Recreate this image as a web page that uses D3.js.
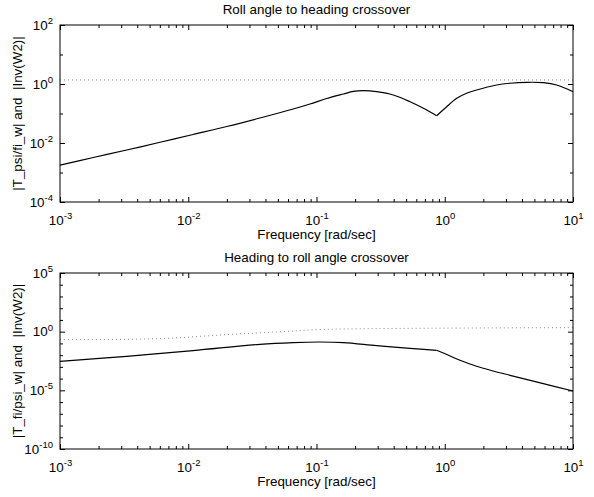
<!DOCTYPE html>
<html>
<head>
<meta charset="utf-8">
<script src="https://cdn.jsdelivr.net/npm/d3@7"></script>
<style>
body { margin: 0; background: #fff; }
text { font-family: "Liberation Sans", Arial, Helvetica, sans-serif; fill: #000; }
</style>
</head>
<body>
<svg id="fig" width="594" height="497"></svg>
<script>
// roll angle -> heading loop
const freqTop = [0.001, 0.00182, 0.00331, 0.00603, 0.0109, 0.0200, 0.0362, 0.0659, 0.0889, 0.120,
    0.162, 0.194, 0.232, 0.294, 0.397, 0.536, 0.681, 0.865, 1.035, 1.24, 1.48, 1.77, 2.54, 3.23, 4.36, 5.87, 7.46, 10];
const magTop = [0.00179, 0.00322, 0.00579, 0.01057, 0.0194, 0.0362, 0.0703, 0.142, 0.210, 0.322,
    0.458, 0.56, 0.593, 0.548, 0.424, 0.251, 0.150, 0.0841, 0.170, 0.327, 0.484, 0.627, 0.925, 1.06, 1.14, 1.11, 0.925, 0.548];
const cuspTop = 0.865;
const freqTopW = [0.001, 10];
const magTopW = [1.37, 1.37];

// heading -> roll angle loop
const freqBot = [0.001, 0.00331, 0.0109, 0.0362, 0.0659, 0.1064, 0.162, 0.294, 0.536, 0.865, 0.975, 1.315, 1.77, 2.39, 3.23, 5.87, 10];
const magBot = [0.00298, 0.0079, 0.0243, 0.0838, 0.117, 0.131, 0.117, 0.0649, 0.0382, 0.0258, 0.0152, 0.00362, 0.00112, 0.000444, 0.000191, 3.75e-5, 8.77e-6];
const cuspBot = 0.865;
const freqBotW = [0.001, 0.00603, 0.02, 0.0489, 0.1064, 0.294, 10];
const magBotW = [0.211, 0.256, 0.562, 0.936, 1.50, 1.82, 2.22];

const xTicks = [1e-3, 1e-2, 1e-1, 1e0, 1e1];
const yTicksTop = [1e-4, 1e-2, 1e0, 1e2];
const yTicksBot = [1e-10, 1e-5, 1e0, 1e5];

const svg = d3.select("#fig");
const FS = 13.4;

function decades(lo, hi) {
    let out = [];
    for (let e = lo; e <= hi; e++) out.push(Math.pow(10, e));
    return out;
}

function supLabels(g) {
    g.selectAll(".tick text").each(function(d) {
        let t = d3.select(this).text(null);
        t.append("tspan").text("10");
        t.append("tspan")
            .attr("dy", "-0.6em")
            .attr("font-size", "9.5px")
            .text(Math.round(Math.log10(d)));
    });
}

function panel(o) {
    let w = o.right - o.left, h = o.bottom - o.top;
    let g = svg.append("g").attr("transform", "translate(" + o.left + "," + o.top + ")");

    let x = d3.scaleLog().domain([1e-3, 10]).range([0, w]);
    let y = d3.scaleLog().domain(o.ydomain).range([h, 0]);

    // minor x ticks 2..9 in each decade
    let xMinor = [];
    for (let e = -3; e < 1; e++)
        for (let k = 2; k <= 9; k++) xMinor.push(k * Math.pow(10, e));
    let yMinor = decades(o.yexp[0], o.yexp[1]).filter(v => !o.yticks.some(t => Math.abs(Math.log10(t) - Math.log10(v)) < 1e-6));

    let axes = [
        [d3.axisBottom(x), "translate(0," + h + ")", xMinor, xTicks],
        [d3.axisTop(x), null, xMinor, xTicks],
        [d3.axisLeft(y), null, yMinor, o.yticks],
        [d3.axisRight(y), "translate(" + w + ",0)", yMinor, o.yticks]
    ];
    axes.forEach(function(a, i) {
        let minor = g.append("g").attr("transform", a[1])
            .call(a[0].tickValues(a[2]).tickSize(-3).tickSizeOuter(0).tickFormat(""));
        minor.select(".domain").remove();
        let major = g.append("g").attr("transform", a[1])
            .call(a[0].tickValues(a[3]).tickSize(-5).tickSizeOuter(0)
                .tickPadding(i == 0 ? 13 : 7).tickFormat(i == 0 || i == 2 ? d3.format("") : ""));
        major.select(".domain").remove();
        major.attr("font-family", null).attr("font-size", FS);
        if (i == 0 || i == 2) supLabels(major);
        g.selectAll(".tick line").attr("stroke", "#000");
    });

    let line = d3.line().x(d => x(d[0])).y(d => y(d[1])).curve(d3.curveCatmullRom.alpha(0.5));

    g.append("path")
        .datum(d3.zip(o.wfreq, o.wmag))
        .attr("d", line)
        .attr("fill", "none")
        .attr("stroke", "#888")
        .attr("stroke-width", 1)
        .attr("stroke-dasharray", "1,3");

    // split the solid curve at its sharp corner so the corner stays sharp
    let pts = d3.zip(o.freq, o.mag);
    let k = o.freq.indexOf(o.cusp);
    [pts.slice(0, k + 1), pts.slice(k)].forEach(function(seg) {
        g.append("path")
            .datum(seg)
            .attr("d", line)
            .attr("fill", "none")
            .attr("stroke", "#000")
            .attr("stroke-width", 1.2);
    });

    g.append("rect")
        .attr("width", w).attr("height", h)
        .attr("fill", "none").attr("stroke", "#000").attr("stroke-width", 1);

    svg.append("text")
        .attr("x", (o.left + o.right) / 2).attr("y", o.top - 11.5)
        .attr("text-anchor", "middle").attr("font-size", FS)
        .text(o.title);

    svg.append("text")
        .attr("x", (o.left + o.right) / 2).attr("y", o.bottom + 37)
        .attr("text-anchor", "middle").attr("font-size", FS)
        .text("Frequency [rad/sec]");

    svg.append("text")
        .attr("transform", "translate(22," + (o.top + o.bottom) / 2 + ") rotate(-90)")
        .attr("text-anchor", "middle").attr("font-size", FS)
        .style("white-space", "pre")
        .text(o.ylabel);
}

panel({
    left: 60, right: 573, top: 25, bottom: 202,
    ydomain: [1e-4, 1e2], yexp: [-4, 2], yticks: yTicksTop,
    freq: freqTop, mag: magTop, cusp: cuspTop, wfreq: freqTopW, wmag: magTopW,
    title: "Roll angle to heading crossover",
    ylabel: "|T_psi/fi_w| and  |Inv(W2)|"
});

panel({
    left: 60, right: 573, top: 273, bottom: 449,
    ydomain: [1e-10, 1e5], yexp: [-10, 5], yticks: yTicksBot,
    freq: freqBot, mag: magBot, cusp: cuspBot, wfreq: freqBotW, wmag: magBotW,
    title: "Heading to roll angle crossover",
    ylabel: "|T_fi/psi_w| and  |Inv(W2)|"
});
</script>
</body>
</html>
